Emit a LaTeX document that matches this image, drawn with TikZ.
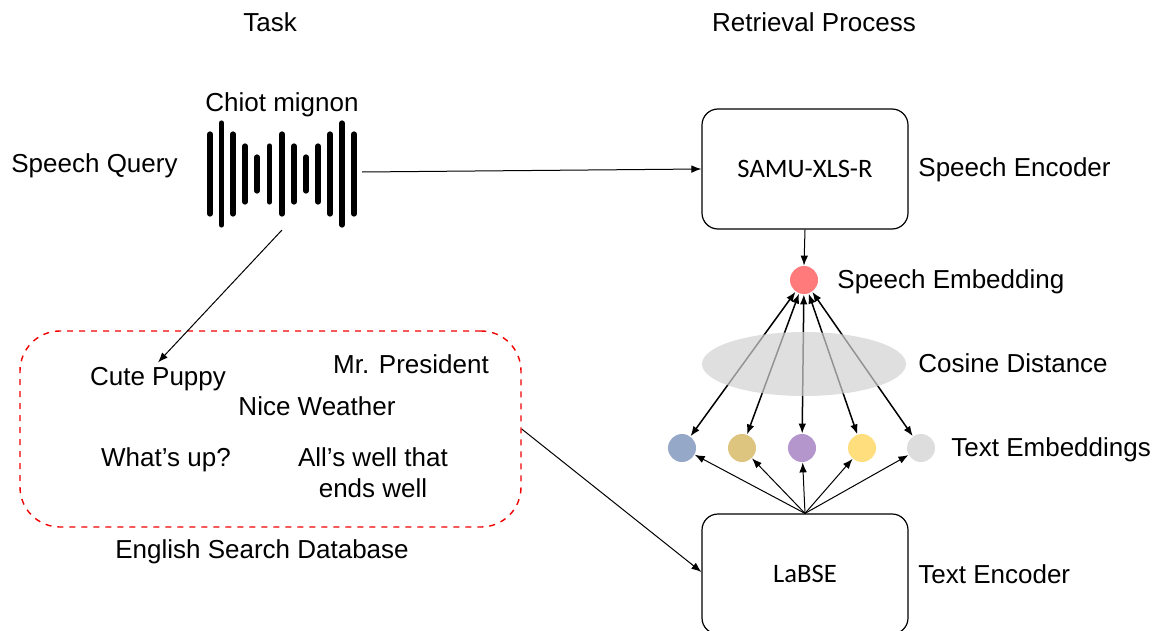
\documentclass[tikz,border=0pt]{standalone}
\usepackage{fontspec}
\setmainfont{Liberation Sans}
\newfontfamily\calibfont{Carlito}
\usetikzlibrary{arrows.meta,shapes.geometric}

\definecolor{embred}{HTML}{FF7B7B}
\definecolor{embblue}{HTML}{95A8C8}
\definecolor{embkhaki}{HTML}{DDC57F}
\definecolor{embpurple}{HTML}{B496CC}
\definecolor{embyellow}{HTML}{FEDE7D}
\definecolor{embgray}{HTML}{DDDDDD}
\definecolor{cosfill}{HTML}{D2D2D2}
\definecolor{dbred}{HTML}{F00000}

\tikzset{
  txt/.style={font=\fontsize{13}{15.5}\selectfont, inner sep=0pt},
  lbl/.style={txt, text height=9.4pt, text depth=2.6pt, yshift=-1.4pt},
  encbox/.style={draw, line width=0.6pt, rounded corners=8pt,
                 minimum width=103pt, minimum height=60pt,
                 font=\calibfont\fontsize{13.3}{15.5}\selectfont},
  emb/.style={circle, minimum size=14pt, inner sep=0pt},
  arr/.style={line width=0.5pt, -{Latex[length=5pt,width=3.8pt]}},
  darr/.style={line width=0.75pt, {Latex[length=5pt,width=3.8pt]}-{Latex[length=5pt,width=3.8pt]}},
  bar/.style={line width=2.6pt, line cap=round},
}

\begin{document}
\begin{tikzpicture}[x=0.5pt,y=-0.5pt]
\useasboundingbox (0,0) rectangle (1156,631);

% column headings
\node[lbl] (task) at (270,22) {Task};
\node[lbl] (retr) at (814,22) {Retrieval Process};

% speech query waveform
\node[lbl] (chiot) at (282,102) {Chiot mignon};
\node[lbl, anchor=west] (squery) at (11,163) {Speech Query};
\foreach \x/\h in {210/40, 221.5/51, 233/40, 245/28, 257/17, 269.5/28, 282/40,
                   294/28, 306/17, 318/28, 330/40, 342/51, 354/40}
  \draw[bar] (\x,174-\h) -- (\x,174+\h);
\coordinate (wave-r) at (362,172);
\coordinate (wave-b) at (282,230);

% encoders
\node[encbox] (samu) at (805,169) {SAMU-XLS-R};
\node[lbl, anchor=west] (senc) at (918,167) {Speech Encoder};
\node[encbox] (labse) at (805,574) {LaBSE};
\node[lbl, anchor=west] (tenc) at (918,574) {Text Encoder};

% embeddings
\node[emb, fill=embred] (se) at (804,280) {};
\node[lbl, anchor=west] (selbl) at (837,279) {Speech Embedding};
\node[emb, fill=embblue]   (t1) at (682,448) {};
\node[emb, fill=embkhaki]  (t2) at (742,448) {};
\node[emb, fill=embpurple] (t3) at (802,448) {};
\node[emb, fill=embyellow] (t4) at (862,448) {};
\node[emb, fill=embgray]   (t5) at (921,448) {};
\node[lbl, anchor=west] (telbl) at (951,447) {Text Embeddings};

% search database
\node[draw=dbred, dashed, line width=0.7pt, rounded corners=20pt,
      minimum width=250.5pt, minimum height=98pt] (db) at (270.5,429) {};
\node[lbl] (cute) at (158,376) {Cute Puppy};
\node[lbl] (pres) at (411,364) {Mr. President};
\node[lbl] (nice) at (317,406) {Nice Weather};
\node[lbl] (what) at (166,457) {What’s up?};
\node[txt, align=center] (alls) at (373,473) {All’s well that\\ends well};
\node[lbl] (dblbl) at (262,549) {English Search Database};

% connectors
\draw[arr] (wave-r) -- (samu.west);
\draw[arr] (wave-b) -- ([yshift=2pt]cute.north);
\draw[arr] (db.east) -- ([yshift=1pt]labse.west);
\draw[arr] (samu.south) -- (se.north);
\foreach \t in {t1,t2,t3,t4,t5}{
  \draw[darr] (se) -- (\t);
  \draw[arr] (labse.north) -- (\t);
}

% cosine distance region over the links
\node[ellipse, fill=cosfill, fill opacity=0.7, minimum width=102pt,
      minimum height=32pt, inner sep=0pt] (cos) at (804,364) {};
\node[lbl, anchor=west] (coslbl) at (918,363) {Cosine Distance};
\end{tikzpicture}
\end{document}
